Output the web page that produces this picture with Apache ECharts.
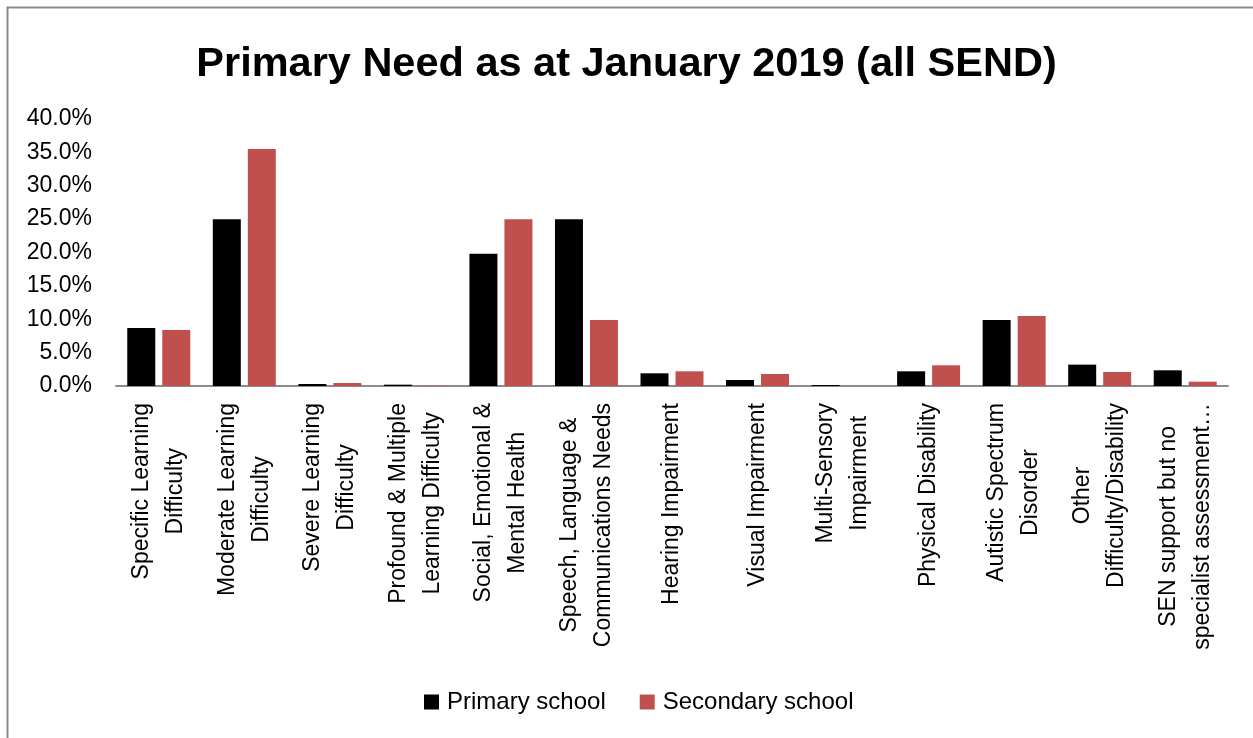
<!DOCTYPE html>
<html><head><meta charset="utf-8">
<script src="https://cdn.jsdelivr.net/npm/echarts@6/dist/echarts.min.js"></script>
<style>html,body{margin:0;padding:0;background:#fff}#c{width:1253px;height:738px}</style>
</head><body><div id="c"></div>
<script>
const categories = [
  "Specific Learning\nDifficulty",
  "Moderate Learning\nDifficulty",
  "Severe Learning\nDifficulty",
  "Profound & Multiple\nLearning Difficulty",
  "Social, Emotional &\nMental Health",
  "Speech, Language &\nCommunications Needs",
  "Hearing Impairment",
  "Visual Impairment",
  "Multi-Sensory\nImpairment",
  "Physical Disability",
  "Autistic Spectrum\nDisorder",
  "Other\nDifficulty/Disability",
  "SEN support but no\nspecialist assessment…"
];
const primarySchool =   [8.7, 25.0, 0.3, 0.2, 19.8, 25.0, 1.9, 0.9, 0.15, 2.2, 9.9, 3.2, 2.35];
const secondarySchool = [8.4, 35.5, 0.45, 0.05, 25.0, 9.9, 2.2, 1.8, 0.0, 3.1, 10.5, 2.1, 0.65];
const FONT = "Liberation Sans";
const LFS = 23;

const chart = echarts.init(document.getElementById('c'));
chart.setOption({
  animation: false,
  backgroundColor: '#fff',
  title: {
    text: 'Primary Need as at January 2019 (all SEND)',
    left: 'center', top: 39,
    textStyle: {fontFamily: FONT, fontWeight: 'bold', fontSize: 41.5, color: '#000'}
  },
  graphic: [{
    type: 'rect', shape: {x: 7.5, y: 7.5, width: 1300, height: 800},
    style: {fill: 'none', stroke: '#8c8c8c', lineWidth: 2}, silent: true
  }],
  legend: {
    bottom: 24, left: 424, padding: 0, itemWidth: 15, itemHeight: 15, itemGap: 34,
    icon: 'rect',
    itemStyle: {borderWidth: 0},
    textStyle: {fontFamily: FONT, fontSize: 24, color: '#000', padding: [0, 0, 0, 3]},
    data: ['Primary school', 'Secondary school']
  },
  grid: {left: 116, right: 25, top: 119, bottom: 352, containLabel: false},
  xAxis: {
    type: 'category', data: categories,
    axisLine: {lineStyle: {color: '#8c8c8c', width: 2}},
    axisTick: {show: false},
    axisLabel: {
      rotate: 90, interval: 0, margin: 17, color: '#000',
      fontFamily: FONT, fontSize: LFS, lineHeight: 34,
      formatter: v => v.split('\n').map(l => '{c|' + l + '}').join('\n'),
      rich: {c: {align: 'center', fontFamily: FONT, fontSize: LFS, lineHeight: 34, color: '#000'}}
    }
  },
  yAxis: {
    type: 'value', min: 0, max: 40, interval: 5,
    axisLine: {show: false}, axisTick: {show: false}, splitLine: {show: false},
    axisLabel: {margin: 24, color: '#000', fontFamily: FONT, fontSize: 23,
      formatter: v => v.toFixed(1) + '%'}
  },
  series: [
    {name: 'Primary school', type: 'bar', data: primarySchool, barWidth: 28, barGap: '25%',
     itemStyle: {color: '#000'}},
    {name: 'Secondary school', type: 'bar', data: secondarySchool, barWidth: 28, barGap: '25%',
     itemStyle: {color: '#c0504d'}}
  ]
});
</script></body></html>
